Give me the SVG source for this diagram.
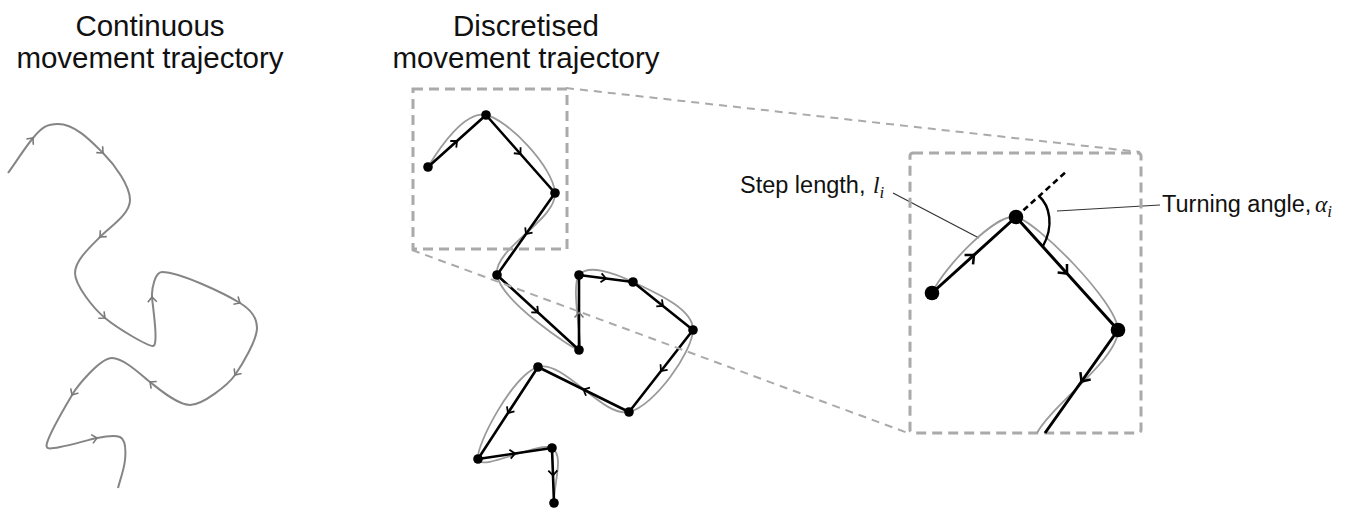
<svg xmlns="http://www.w3.org/2000/svg" xmlns:xlink="http://www.w3.org/1999/xlink" width="1347" height="510" viewBox="0 0 1347 510">
<defs>
<style>
.title{font-family:"Liberation Sans",Arial,sans-serif;font-size:29.5px;fill:#111;text-anchor:middle}
.label{font-family:"Liberation Sans",Arial,sans-serif;font-size:23.5px;fill:#111}
.math{font-family:"Liberation Serif","Times New Roman",serif;font-style:italic}
.cont{fill:none;stroke:#858585;stroke-width:2}
.gray{fill:none;stroke:#9a9a9a;stroke-width:1.8}
.blk{fill:none;stroke:#000;stroke-width:2.6;stroke-linejoin:round}
.blk3{fill:none;stroke:#000;stroke-width:3;stroke-linejoin:round}
.chg{fill:none;stroke:#7a7a7a;stroke-width:1.6}
.chk{fill:none;stroke:#000;stroke-width:1.8}
.dot{fill:#000}
.box{fill:none;stroke:#aaa;stroke-width:3;stroke-dasharray:10 6}
.link{fill:none;stroke:#aaa;stroke-width:2;stroke-dasharray:8 6}
.leader{fill:none;stroke:#333;stroke-width:1.2}
</style>
<path id="chev" d="M-5,-4.5 L0,0 L-5,4.5"/>
</defs>
<rect width="1347" height="510" fill="#fff"/>

<g id="titles">
<text class="title" x="150" y="36">Continuous</text>
<text class="title" x="150" y="68">movement trajectory</text>
<text class="title" x="526" y="36">Discretised</text>
<text class="title" x="526" y="68">movement trajectory</text>
</g>

<g id="continuous-trajectory">
<path class="cont" d="M8,173 C16,162 24,149 33,138 C42,127 47,124 58,124 C75,124 91,141 103,153 C115,165 130,186 130,200 C130,214 111,226 100,237 C89,248 75,261 75,273 C75,285 93,308 105,318 C117,328 147,346 153,346 C159,346 152.5,305 152,297 C151.5,289 155,272 162,272 C180,272 224.6,293.7 240,303 C249.4,308.7 257,316 257,328 C257,340 241.9,365.2 235,375 C228.1,384.8 203,405 190,405 C177,405 157.9,388.1 150,382 C142.1,375.9 124,358 112,358 C100,358 77.1,386.4 72,395 C66.9,403.6 50,432 47,443 C45,450 50,449 60,447 C72,445 87.2,440 97,438 C106.8,436 115,435 120,437 C126,440 126,450 125,460 C124,470 120,480 118,488"/>
<use href="#chev" class="chg" transform="translate(33,138) rotate(-50.7)"/>
<use href="#chev" class="chg" transform="translate(103,153) rotate(45)"/>
<use href="#chev" class="chg" transform="translate(100,237) rotate(135)"/>
<use href="#chev" class="chg" transform="translate(105,318) rotate(39.8)"/>
<use href="#chev" class="chg" transform="translate(152,297) rotate(-93.6)"/>
<use href="#chev" class="chg" transform="translate(240,303) rotate(31)"/>
<use href="#chev" class="chg" transform="translate(235,375) rotate(125)"/>
<use href="#chev" class="chg" transform="translate(150,382) rotate(217.9)"/>
<use href="#chev" class="chg" transform="translate(72,395) rotate(121)"/>
<use href="#chev" class="chg" transform="translate(97,438) rotate(-11.3)"/>
</g>

<g id="discretised-trajectory">
<path class="gray" d="M428,167 C440,147 464.8,110.7 486,115 C507.2,119.3 553.2,166.3 555,193 C556.8,219.7 493,248.8 497,275 C501,301.2 574,350 579,350 C584,350 570,286.3 579,275 C588,263.7 614,272.8 633,282 C652,291.2 693.7,308.3 693,330 C692.3,351.7 654.8,405.8 629,412 C603.2,418.2 563.2,359.2 538,367 C512.8,374.8 475.7,445.5 478,459 C480.3,472.5 539.3,440.7 552,448 C564.7,455.3 553.3,484.7 554,503"/>
<polyline class="blk" points="428,167 486,115 555,193 497,275 579,350 579,275 633,282 693,330 629,412 538,367 478,459 552,448 554,503"/>
<use href="#chev" class="chk" transform="translate(457,141) rotate(-41.9)"/>
<use href="#chev" class="chk" transform="translate(520.5,154) rotate(48.5)"/>
<use href="#chev" class="chk" transform="translate(526,234) rotate(125.3)"/>
<use href="#chev" class="chk" transform="translate(538,312.5) rotate(42.4)"/>
<use href="#chev" class="chg" transform="translate(579,312.5) rotate(-90)"/>
<use href="#chev" class="chk" transform="translate(606,278.5) rotate(7.4)"/>
<use href="#chev" class="chk" transform="translate(663,306) rotate(38.7)"/>
<use href="#chev" class="chk" transform="translate(661,371) rotate(128)"/>
<use href="#chev" class="chk" transform="translate(583.5,389.5) rotate(206.3)"/>
<use href="#chev" class="chk" transform="translate(508,413) rotate(123.1)"/>
<use href="#chev" class="chk" transform="translate(515,453.5) rotate(-8.5)"/>
<use href="#chev" class="chk" transform="translate(553,475.5) rotate(87.9)"/>
<g id="steps">
<circle class="dot" cx="428" cy="167" r="4.8"/>
<circle class="dot" cx="486" cy="115" r="4.8"/>
<circle class="dot" cx="555" cy="193" r="4.8"/>
<circle class="dot" cx="497" cy="275" r="4.8"/>
<circle class="dot" cx="579" cy="350" r="4.8"/>
<circle class="dot" cx="579" cy="275" r="4.8"/>
<circle class="dot" cx="633" cy="282" r="4.8"/>
<circle class="dot" cx="693" cy="330" r="4.8"/>
<circle class="dot" cx="629" cy="412" r="4.8"/>
<circle class="dot" cx="538" cy="367" r="4.8"/>
<circle class="dot" cx="478" cy="459" r="4.8"/>
<circle class="dot" cx="552" cy="448" r="4.8"/>
<circle class="dot" cx="554" cy="503" r="4.8"/>
</g>
</g>

<g id="connectors">
<line class="link" x1="566" y1="88" x2="1140" y2="152"/>
<line class="link" x1="412" y1="250" x2="908" y2="433"/>
<line class="leader" x1="893" y1="193" x2="979" y2="238"/>
<line class="leader" x1="1057" y1="211" x2="1160" y2="205"/>
</g>

<g id="small-box">
<rect class="box" x="413" y="89" width="154" height="160"/>
</g>

<g id="zoom-box">
<rect class="box" x="910" y="153" width="231" height="280" rx="3"/>
<path class="gray" d="M932,293 C945,266 996,213 1016,217 C1036,221 1117,302 1118,330 C1119,358 1052,405 1037,433"/>
<line x1="1016" y1="217" x2="1065" y2="172.7" stroke="#000" stroke-width="2.6" stroke-dasharray="6 4"/>
<path class="blk3" d="M932,293 L1016,217 L1118,330 L1045,433"/>
<path d="M1039,196 C1050,206 1054,226 1043,246" fill="none" stroke="#000" stroke-width="2.4"/>
<use href="#chev" class="chk" transform="translate(974,255) rotate(-42.1) scale(1.4)"/>
<use href="#chev" class="chk" transform="translate(1067,273.5) rotate(47.9) scale(1.4)"/>
<use href="#chev" class="chk" transform="translate(1081.5,381.5) rotate(125.3) scale(1.4)"/>
<circle class="dot" cx="932" cy="293" r="7.3"/>
<circle class="dot" cx="1016" cy="217" r="7.3"/>
<circle class="dot" cx="1118" cy="330" r="7.3"/>
</g>

<g id="labels">
<text class="label" x="740" y="193">Step length,<tspan class="math" x="873">l</tspan><tspan class="math" font-size="17" dy="5">i</tspan></text>
<text class="label" x="1162" y="212">Turning angle,<tspan class="math" x="1315">α</tspan><tspan class="math" font-size="17" dy="5">i</tspan></text>
</g>
</svg>
